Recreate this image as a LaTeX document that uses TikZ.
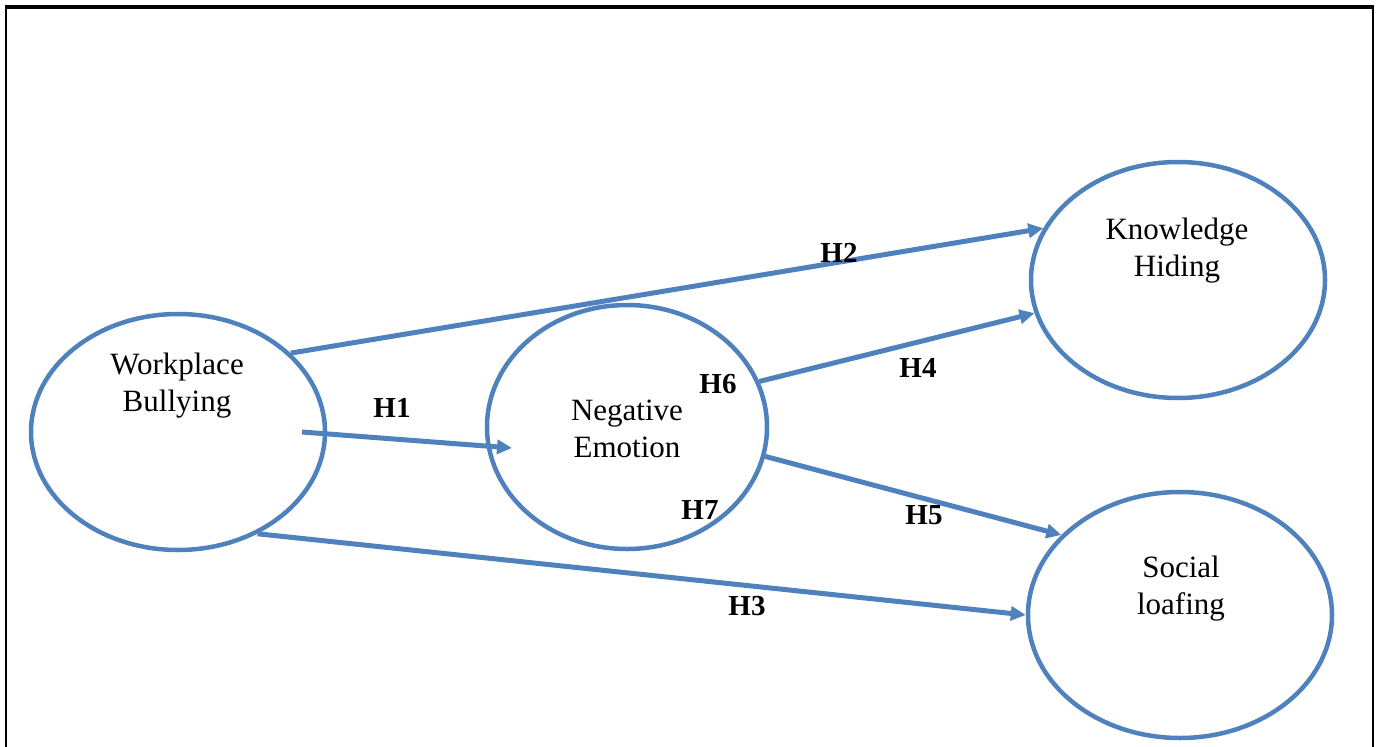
\documentclass[tikz,border=0pt]{standalone}
\usepackage{fontspec}
\setmainfont{Liberation Serif}
\usetikzlibrary{arrows.meta,calc,shapes.geometric}
\definecolor{linkblue}{HTML}{4F81BD}
\tikzset{
  bubble/.style={ellipse, draw=linkblue, line width=4.5pt, inner sep=0pt},
  nametext/.style={align=center, font=\fontsize{31}{37}\selectfont},
  hlabel/.style={font=\fontsize{29}{32}\selectfont\bfseries},
  link/.style={draw=linkblue, line width=5pt, -{Triangle[length=15pt,width=14pt]}},
}
\begin{document}
\begin{tikzpicture}[x=1pt,y=-1pt]
\useasboundingbox (0,0) rectangle (1377,747);
% frame (open at bottom)
\draw[line width=2pt] (6,747) -- (6,7);
\draw[line width=2pt] (1373,7) -- (1373,747);
\draw[line width=3.5pt] (5,7) -- (1374,7);

% ellipses
\node[bubble, minimum width=294pt, minimum height=236pt] (wb) at (178,432) {};
\node[bubble, minimum width=280pt, minimum height=244pt] (ne) at (627,427) {};
\node[bubble, minimum width=294pt, minimum height=236pt] (kh) at (1178,280) {};
\node[bubble, minimum width=304pt, minimum height=246pt] (sl) at (1180,615) {};

% texts
\node[nametext] (wbt) at (177,386) {Workplace\\Bullying};
\node[nametext] (net) at (627,429) {Negative\\Emotion};
\node[nametext] (kht) at (1177,251) {Knowledge\\Hiding};
\node[nametext] (slt) at (1181,589) {Social\\loafing};

% connectors
\coordinate (h1s) at (302,432);
\coordinate (h1e) at (512,448);
\draw[link] (h1s) -- (h1e);
\draw[link] (wb.35) -- (kh.159);
\draw[link] (wb.-52) -- (sl.180);
\draw[link] (ne.19) -- (kh.193);
\draw[link] (ne.-12) -- (sl.146);

% labels
\node[hlabel] (l1) at (392,408) {H1};
\node[hlabel] (l2) at (839,253) {H2};
\node[hlabel] (l3) at (747,606) {H3};
\node[hlabel] (l4) at (918,368) {H4};
\node[hlabel] (l5) at (924,515) {H5};
\node[hlabel] (l6) at (718,384) {H6};
\node[hlabel] (l7) at (700,510) {H7};
\end{tikzpicture}
\end{document}
